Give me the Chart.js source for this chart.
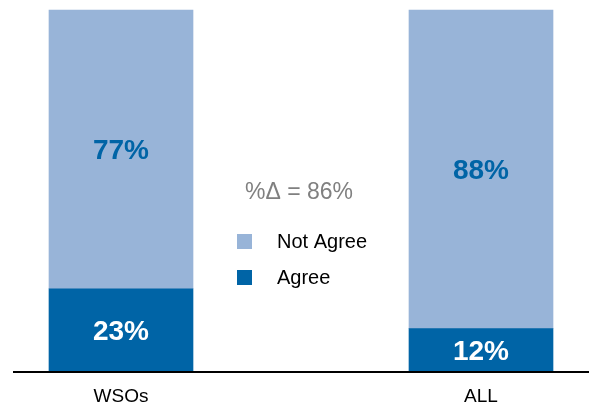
<!DOCTYPE html>
<html>
<head>
<meta charset="utf-8">
<script src="https://cdn.jsdelivr.net/npm/chart.js@4/dist/chart.umd.min.js"></script>
<style>
  html, body { margin: 0; padding: 0; background: #fff; }
  #wrap { width: 589px; height: 409px; }
</style>
</head>
<body>
<div id="wrap"><canvas id="chart"></canvas></div>
<script>
const categories = ["WSOs", "ALL"];
const agree = [23, 12];
const notAgree = [77, 88];
const changeLabel = "%\u0394 = 86%";

const lightBlue = "#98b4d8";
const darkBlue = "#0064a6";
const fontFamily = "'Liberation Sans', Arial, Helvetica, sans-serif";

// labels inside each bar segment + baseline + legend in the middle
const extras = {
  id: "extras",
  afterDatasetsDraw(chart) {
    const { ctx, chartArea } = chart;
    ctx.save();
    ctx.textAlign = "center";
    ctx.textBaseline = "middle";
    ctx.font = "bold 28px " + fontFamily;
    chart.data.datasets.forEach((ds, i) => {
      const meta = chart.getDatasetMeta(i);
      meta.data.forEach((bar, j) => {
        const mid = (bar.y + bar.base) / 2;
        ctx.fillStyle = i === 0 ? "#ffffff" : darkBlue;
        ctx.fillText(ds.data[j] + "%", bar.x, mid + 2);
      });
    });

    // baseline
    ctx.strokeStyle = "#000";
    ctx.lineWidth = 2;
    ctx.beginPath();
    ctx.moveTo(13, chartArea.bottom);
    ctx.lineTo(chart.width, chartArea.bottom);
    ctx.stroke();

    // %change note
    ctx.fillStyle = "#808080";
    ctx.font = "23px " + fontFamily;
    ctx.fillText(changeLabel, 299, 193);

    // legend
    ctx.textAlign = "left";
    ctx.font = "20px " + fontFamily;
    const items = [chart.data.datasets[1], chart.data.datasets[0]];
    items.forEach((ds, k) => {
      const y = 241 + k * 36;
      ctx.fillStyle = ds.backgroundColor;
      ctx.fillRect(237, y - 7, 15, 15);
      ctx.fillStyle = "#000";
      ctx.fillText(ds.label, 277, y + 1);
    });
    ctx.restore();
  }
};

new Chart(document.getElementById("chart"), {
  type: "bar",
  data: {
    labels: categories,
    datasets: [
      { label: "Agree", data: agree, backgroundColor: darkBlue, barThickness: 144, clip: false },
      { label: "Not Agree", data: notAgree, backgroundColor: lightBlue, barThickness: 144, clip: false }
    ]
  },
  options: {
    responsive: true,
    maintainAspectRatio: false,
    animation: false,
    layout: { padding: { left: 121, right: 108, top: 10, bottom: 0 } },
    plugins: {
      legend: { display: false },
      tooltip: { enabled: false }
    },
    scales: {
      x: {
        stacked: true,
        offset: false,
        grid: { display: false, drawTicks: false },
        border: { display: false },
        ticks: { color: "#000", padding: 13, font: { family: fontFamily, size: 19 } },
        afterFit(scale) { scale.height = 37; }
      },
      y: {
        stacked: true,
        display: false,
        min: 0,
        max: 100
      }
    }
  },
  plugins: [extras]
});
</script>
</body>
</html>
